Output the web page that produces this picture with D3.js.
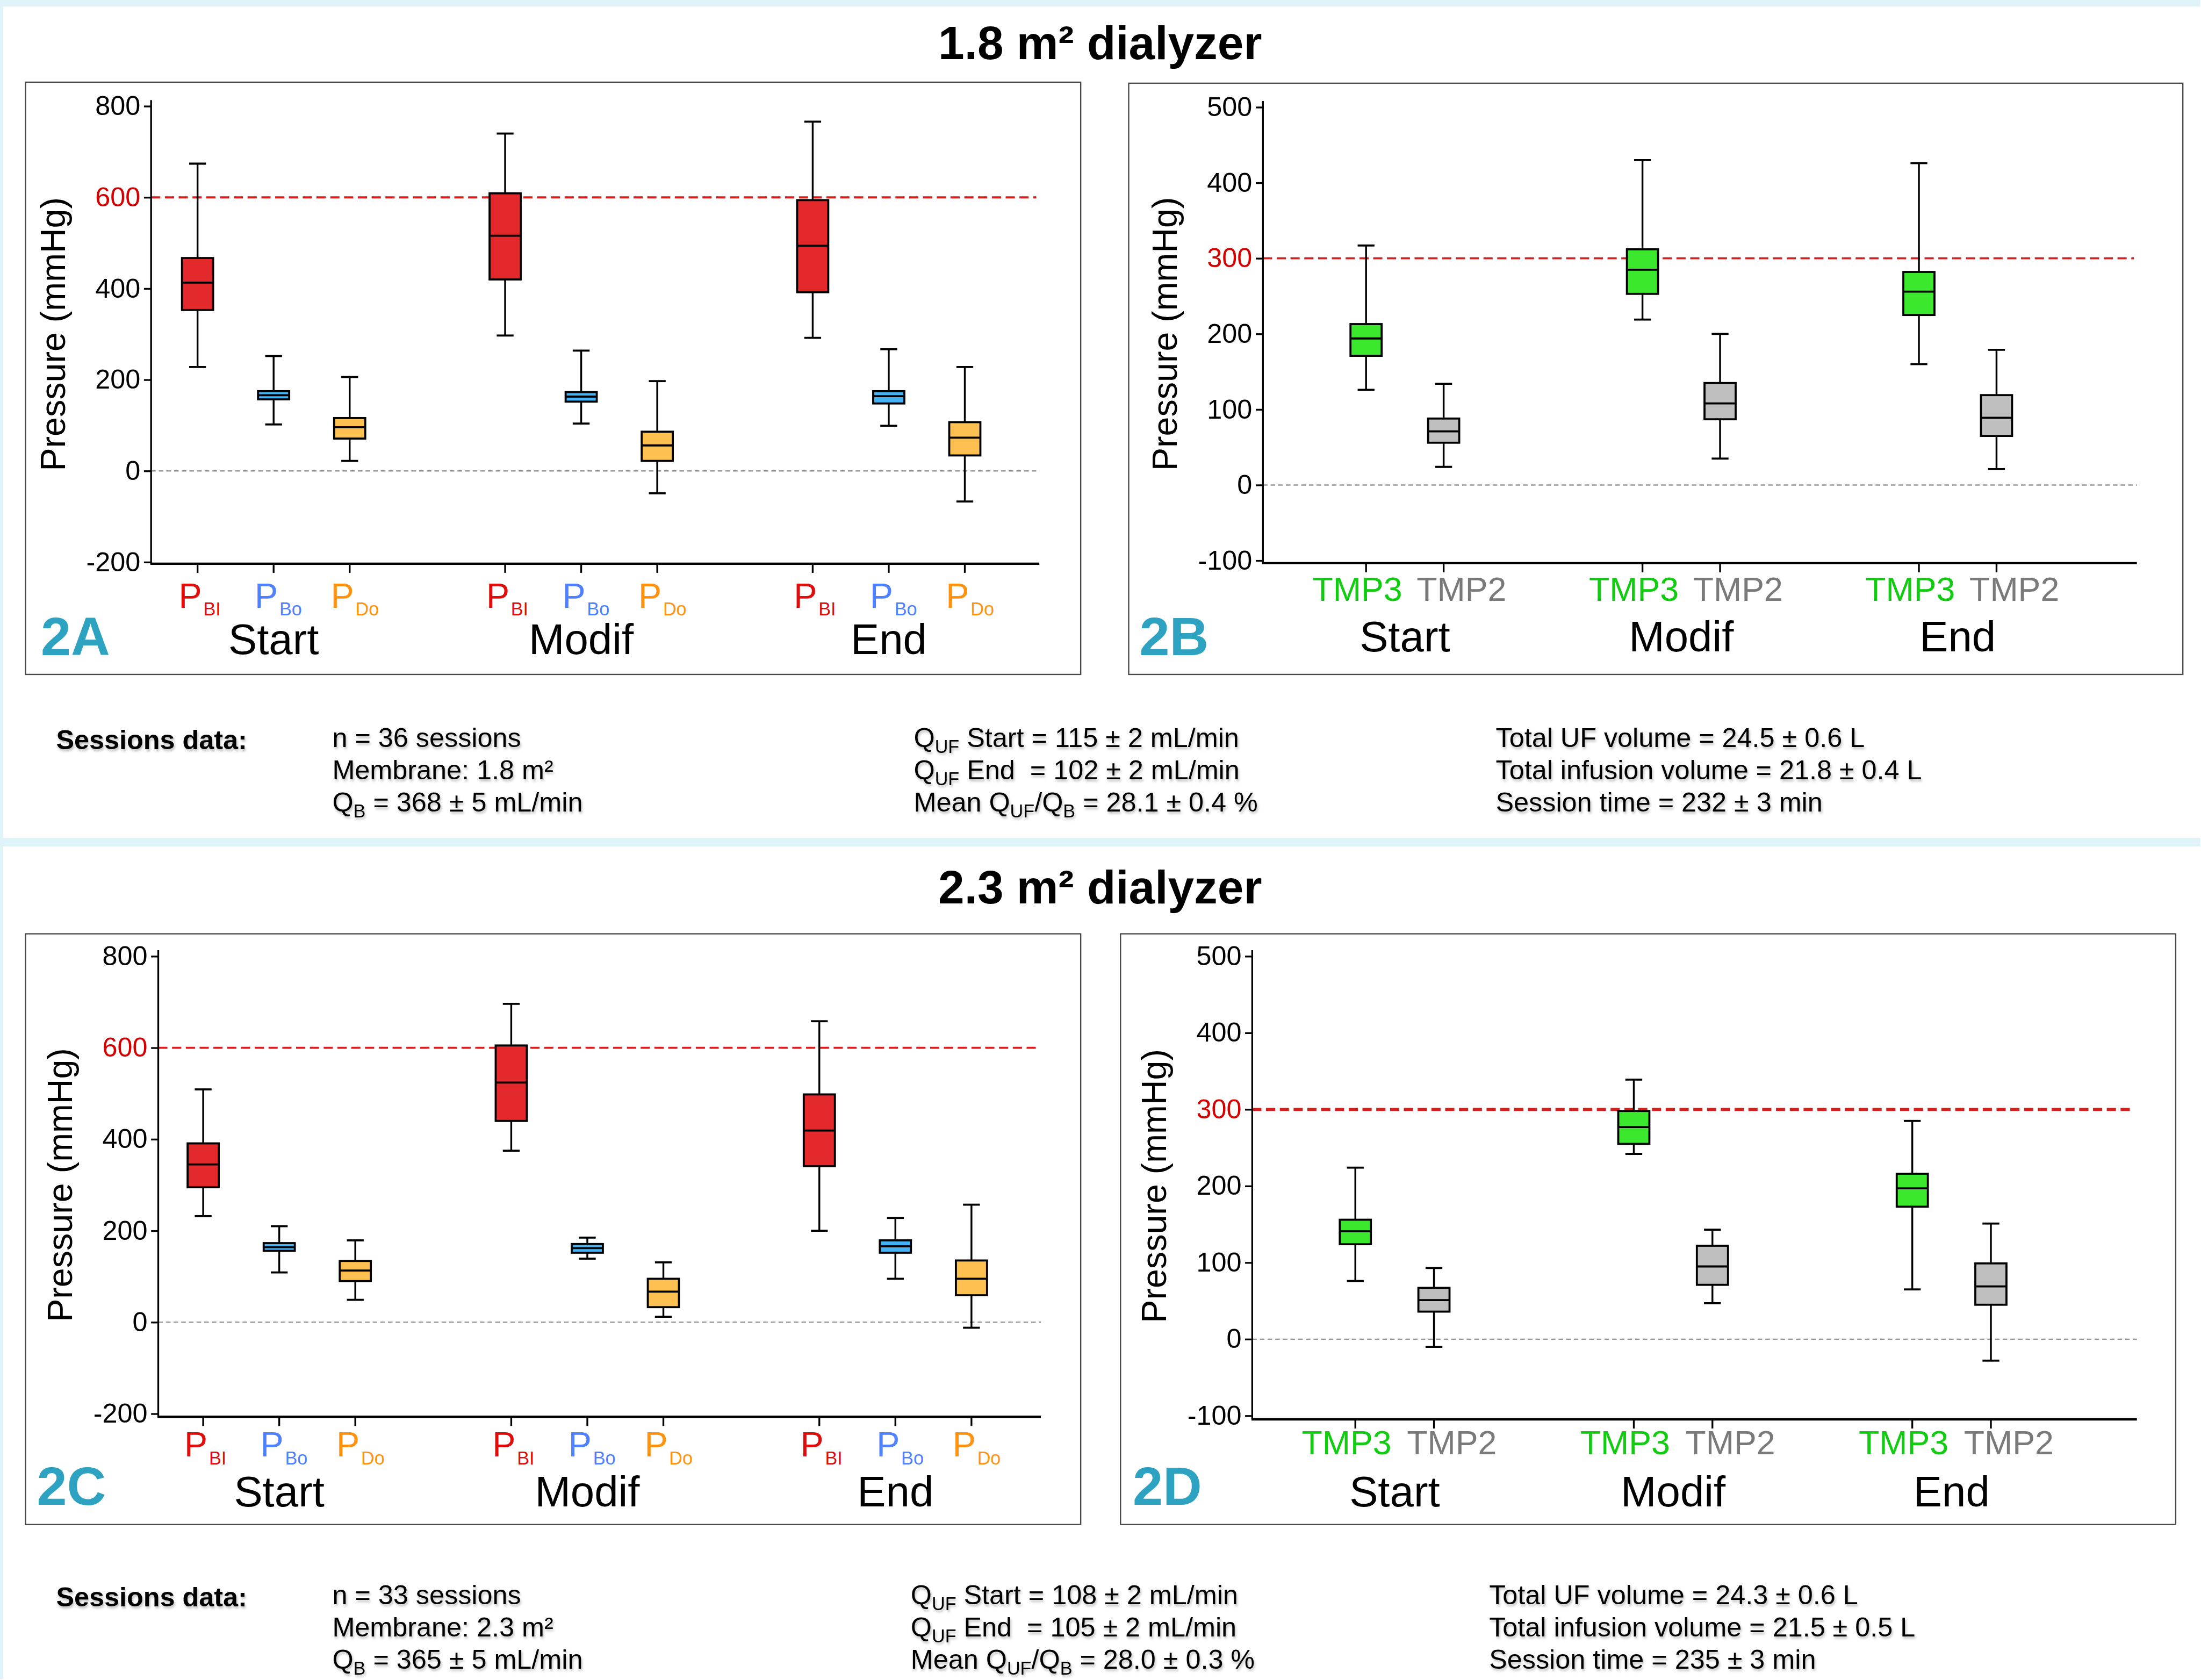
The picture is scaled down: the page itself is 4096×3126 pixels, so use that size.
<!DOCTYPE html>
<html>
<head>
<meta charset="utf-8">
<script src="https://cdn.jsdelivr.net/npm/d3@7"></script>
<style>
  body { margin: 0; background: #fff; }
  svg { display: block; }
  text { font-family: "Liberation Sans", Arial, Helvetica, sans-serif; }
</style>
</head>
<body>
<div id="chart"></div>
<script>
// ---- data ----
var groups = ["Start", "Modif", "End"];
var pressureSeries = ["PBI", "PBo", "PDo"];
var tmpSeries = ["TMP3", "TMP2"];
var pressureTicks = [-200, 0, 200, 400, 600, 800];
var tmpTicks = [-100, 0, 100, 200, 300, 400, 500];
var pressureLimit = 600;
var tmpLimit = 300;

// [low whisker, Q1, median, Q3, high whisker] for Start, Modif, End
var pbi18 = [[228, 353, 413, 467, 674], [297, 420, 516, 609, 740], [292, 392, 494, 594, 766]];
var pbo18 = [[102, 157, 166, 175, 252], [104, 152, 163, 173, 264], [99, 148, 164, 175, 267]];
var pdo18 = [[22, 71, 96, 116, 206], [-49, 22, 56, 86, 197], [-67, 34, 73, 107, 228]];
var tmp3_18 = [[126, 171, 194, 213, 317], [219, 253, 285, 312, 430], [160, 225, 256, 282, 426]];
var tmp2_18 = [[24, 56, 71, 88, 134], [35, 87, 108, 135, 200], [21, 65, 89, 119, 179]];

var pbi23 = [[232, 295, 345, 391, 509], [375, 440, 524, 605, 696], [200, 341, 419, 498, 658]];
var pbo23 = [[109, 156, 164, 173, 210], [139, 152, 162, 171, 185], [95, 152, 166, 179, 228]];
var pdo23 = [[49, 90, 113, 134, 179], [12, 33, 67, 95, 131], [-12, 59, 95, 135, 257]];
var tmp3_23 = [[76, 124, 141, 156, 224], [242, 255, 277, 298, 339], [65, 173, 197, 216, 285]];
var tmp2_23 = [[-10, 36, 51, 67, 93], [47, 71, 95, 122, 143], [-28, 45, 69, 99, 151]];

var titles = ["1.8 m\u00b2 dialyzer", "2.3 m\u00b2 dialyzer"];
var panelNames = ["2A", "2B", "2C", "2D"];

var info18 = [
    ["n = 36 sessions", "Membrane: 1.8 m\u00b2", "Q_{B} = 368 \u00b1 5 mL/min"],
    ["Q_{UF} Start = 115 \u00b1 2 mL/min", "Q_{UF} End  = 102 \u00b1 2 mL/min", "Mean Q_{UF}/Q_{B} = 28.1 \u00b1 0.4 %"],
    ["Total UF volume = 24.5 \u00b1 0.6 L", "Total infusion volume = 21.8 \u00b1 0.4 L", "Session time = 232 \u00b1 3 min"]
];
var info23 = [
    ["n = 33 sessions", "Membrane: 2.3 m\u00b2", "Q_{B} = 365 \u00b1 5 mL/min"],
    ["Q_{UF} Start = 108 \u00b1 2 mL/min", "Q_{UF} End  = 105 \u00b1 2 mL/min", "Mean Q_{UF}/Q_{B} = 28.0 \u00b1 0.3 %"],
    ["Total UF volume = 24.3 \u00b1 0.6 L", "Total infusion volume = 21.5 \u00b1 0.5 L", "Session time = 235 \u00b1 3 min"]
];

// ---- styles ----
var fills = {PBI: "#e3292b", PBo: "#45b3f3", PDo: "#fec050", TMP3: "#3be82d", TMP2: "#bfbfbf"};
var labelColors = {PBI: "#e00b0b", PBo: "#4f80ff", PDo: "#ff9310", TMP3: "#11cc11", TMP2: "#7a7a7a"};
var labelParts = {PBI: ["P", "BI"], PBo: ["P", "Bo"], PDo: ["P", "Do"], TMP3: ["TMP3", ""], TMP2: ["TMP2", ""]};
var labelShift = {PBI: -37, PBo: -37, PDo: -37, TMP3: -17, TMP2: 35};
var teal = "#2da3c1";

var W = 4310, H = 3289, S = 0.95;

var svg = d3.select("#chart").append("svg")
    .attr("width", 4096)
    .attr("height", 3126);

var defs = svg.append("defs");
var shadow = defs.append("filter").attr("id", "soft").attr("x", "-5%").attr("y", "-20%")
    .attr("width", "110%").attr("height", "160%");
shadow.append("feDropShadow").attr("dx", 2).attr("dy", 4).attr("stdDeviation", 2)
    .attr("flood-color", "#000").attr("flood-opacity", 0.25);

var root = svg.append("g").attr("transform", "scale(" + S + ")");

// background with the light blue bands
root.append("rect").attr("width", W).attr("height", H).attr("fill", "#fff");
root.append("rect").attr("width", W).attr("height", 13).attr("fill", "#dff3f8");
root.append("rect").attr("y", 1641).attr("width", W).attr("height", 17).attr("fill", "#dff3f8");
root.append("rect").attr("width", 6).attr("height", H).attr("fill", "#dff3f8");

// titles
[116, 1769].forEach(function (ty, i) {
    root.append("text")
        .attr("x", 2155).attr("y", ty)
        .attr("text-anchor", "middle")
        .attr("font-size", 92).attr("font-weight", "bold")
        .text(titles[i]);
});

var panels = [
    {name: panelNames[0], frame: [50, 161, 2117, 1321], axisX: 296, xEnd: 2036, yRange: [1101, 208], baseY: 1104,
        groupRange: [536, 1741], inner: 149, keys: pressureSeries, data: [pbi18, pbo18, pdo18], ticks: pressureTicks,
        limit: pressureLimit, tag: [80, 1283], catDy: 86, groupDy: 177, limitWidth: 4},
    {name: panelNames[1], frame: [2211, 163, 4276, 1321], axisX: 2474, xEnd: 4186, yRange: [1098, 210], baseY: 1103,
        groupRange: [2752, 3835], inner: 76, keys: tmpSeries, data: [tmp3_18, tmp2_18], ticks: tmpTicks,
        limit: tmpLimit, tag: [2232, 1283], catDy: 74, groupDy: 173, limitWidth: 4},
    {name: panelNames[2], frame: [50, 1829, 2117, 2986], axisX: 310, xEnd: 2039, yRange: [2769, 1873], baseY: 2775,
        groupRange: [547, 1754], inner: 149, keys: pressureSeries, data: [pbi23, pbo23, pdo23], ticks: pressureTicks,
        limit: pressureLimit, tag: [72, 2947], catDy: 78, groupDy: 175, limitWidth: 4},
    {name: panelNames[3], frame: [2195, 1829, 4262, 2986], axisX: 2453, xEnd: 4186, yRange: [2773, 1873], baseY: 2780,
        groupRange: [2732, 3823], inner: 77, keys: tmpSeries, data: [tmp3_23, tmp2_23], ticks: tmpTicks,
        limit: tmpLimit, tag: [2219, 2947], catDy: 68, groupDy: 171, limitWidth: 6}
];

panels.forEach(function (p) { drawPanel(p); });

function drawPanel(p) {
    var g = root.append("g");
    var ticks = p.ticks;

    g.append("rect")
        .attr("x", p.frame[0]).attr("y", p.frame[1])
        .attr("width", p.frame[2] - p.frame[0]).attr("height", p.frame[3] - p.frame[1])
        .attr("fill", "none").attr("stroke", "#4a4a4a").attr("stroke-width", 2.5);

    var y = d3.scaleLinear().domain([ticks[0], ticks[ticks.length - 1]]).range(p.yRange);
    var xg = d3.scalePoint().domain(groups).range(p.groupRange);
    var xs = d3.scalePoint().domain(p.keys).range([-p.inner, p.inner]);

    // reference lines
    g.append("line")
        .attr("x1", p.axisX).attr("x2", p.xEnd)
        .attr("y1", y(0)).attr("y2", y(0))
        .attr("stroke", "#999").attr("stroke-width", 2.5).attr("stroke-dasharray", "9,6");
    g.append("line")
        .attr("x1", p.axisX).attr("x2", p.xEnd - 6)
        .attr("y1", y(p.limit)).attr("y2", y(p.limit))
        .attr("stroke", "#d61f1f").attr("stroke-width", p.limitWidth).attr("stroke-dasharray", "18,9");

    // y axis (plain hyphen for negatives, as in the original figure)
    var ya = g.append("g")
        .attr("transform", "translate(" + p.axisX + ",0)")
        .call(d3.axisLeft(y).tickValues(ticks).tickSize(14).tickPadding(7)
            .tickFormat(function (d) { return String(d); }));
    ya.attr("font-family", null).attr("font-size", null);
    ya.select(".domain").remove();
    ya.selectAll(".tick line").attr("stroke", "#000").attr("stroke-width", 3.5);
    ya.selectAll(".tick text")
        .attr("font-size", 53)
        .attr("fill", function (d) { return d === p.limit ? "#d40000" : "#000"; });
    g.append("line")
        .attr("x1", p.axisX).attr("x2", p.axisX)
        .attr("y1", y(ticks[ticks.length - 1]) - 12).attr("y2", p.baseY)
        .attr("stroke", "#000").attr("stroke-width", 3.5);

    // x axis
    g.append("line")
        .attr("x1", p.axisX - 1.5).attr("x2", p.xEnd)
        .attr("y1", p.baseY).attr("y2", p.baseY)
        .attr("stroke", "#000").attr("stroke-width", 4.5);

    g.append("text")
        .attr("transform", "translate(" + (p.axisX - 169) + "," + ((p.yRange[0] + p.yRange[1]) / 2) + ") rotate(-90)")
        .attr("text-anchor", "middle")
        .attr("font-size", 68)
        .text("Pressure (mmHg)");

    // boxes
    var cells = [];
    groups.forEach(function (grp, gi) {
        p.keys.forEach(function (k, ki) {
            var v = p.data[ki][gi];
            cells.push({group: grp, key: k, cx: xg(grp) + xs(k), lo: v[0], q1: v[1], med: v[2], q3: v[3], hi: v[4]});
        });
    });

    var bw = 61, cw = 33;
    var box = g.selectAll(".box").data(cells).enter().append("g").attr("class", "box");

    box.append("line")
        .attr("x1", function (d) { return d.cx; }).attr("x2", function (d) { return d.cx; })
        .attr("y1", p.baseY).attr("y2", p.baseY + 18)
        .attr("stroke", "#000").attr("stroke-width", 3.5);
    box.append("line")
        .attr("x1", function (d) { return d.cx; }).attr("x2", function (d) { return d.cx; })
        .attr("y1", function (d) { return y(d.hi); }).attr("y2", function (d) { return y(d.lo); })
        .attr("stroke", "#000").attr("stroke-width", 3.6);
    ["hi", "lo"].forEach(function (f) {
        box.append("line")
            .attr("x1", function (d) { return d.cx - cw / 2; }).attr("x2", function (d) { return d.cx + cw / 2; })
            .attr("y1", function (d) { return y(d[f]); }).attr("y2", function (d) { return y(d[f]); })
            .attr("stroke", "#000").attr("stroke-width", 4);
    });
    box.append("rect")
        .attr("x", function (d) { return d.cx - bw / 2; })
        .attr("y", function (d) { return y(d.q3); })
        .attr("width", bw)
        .attr("height", function (d) { return y(d.q1) - y(d.q3); })
        .attr("fill", function (d) { return fills[d.key]; })
        .attr("stroke", "#000").attr("stroke-width", 4);
    box.append("line")
        .attr("x1", function (d) { return d.cx - bw / 2; }).attr("x2", function (d) { return d.cx + bw / 2; })
        .attr("y1", function (d) { return y(d.med); }).attr("y2", function (d) { return y(d.med); })
        .attr("stroke", "#000").attr("stroke-width", 4);

    // category labels
    var isP = p.keys === pressureSeries;
    var lab = box.append("text")
        .attr("x", function (d) { return d.cx + labelShift[d.key]; })
        .attr("y", p.baseY + p.catDy)
        .attr("text-anchor", isP ? "start" : "middle")
        .attr("fill", function (d) { return labelColors[d.key]; });
    lab.append("tspan")
        .attr("font-size", isP ? 68 : 66)
        .text(function (d) { return labelParts[d.key][0]; });
    if (isP) {
        lab.append("tspan")
            .attr("font-size", 36).attr("dy", 15).attr("dx", 3)
            .text(function (d) { return labelParts[d.key][1]; });
    }

    g.selectAll(".grp").data(groups).enter().append("text")
        .attr("x", function (d) { return xg(d); })
        .attr("y", p.baseY + p.groupDy)
        .attr("text-anchor", "middle")
        .attr("font-size", 84)
        .text(function (d) { return d; });

    g.append("text")
        .attr("x", p.tag[0]).attr("y", p.tag[1])
        .attr("font-size", 106).attr("font-weight", "bold")
        .attr("fill", teal)
        .text(p.name);
}

// session info blocks
drawInfo(110, [651, 1790, 2930], 1463, info18);
drawInfo(110, [651, 1784, 2917], 3142, info23);

function drawInfo(x0, cols, y0, cols_text) {
    var g = root.append("g").attr("filter", "url(#soft)");
    g.append("text")
        .attr("x", x0).attr("y", y0 + 4)
        .attr("font-size", 53).attr("font-weight", "bold")
        .text("Sessions data:");
    cols_text.forEach(function (lines, ci) {
        lines.forEach(function (line, li) {
            var t = g.append("text")
                .attr("x", cols[ci]).attr("y", y0 + li * 63)
                .attr("font-size", 53)
                .attr("xml:space", "preserve")
                .style("white-space", "pre");
            var parts = line.split(/(_\{[^}]*\})/).filter(function (s) { return s.length; });
            var down = false;
            parts.forEach(function (s) {
                if (s.charAt(0) === "_") {
                    t.append("tspan").attr("font-size", 36).attr("dy", down ? 0 : 12).text(s.slice(2, -1));
                    down = true;
                } else {
                    t.append("tspan").attr("dy", down ? -12 : 0).text(s);
                    down = false;
                }
            });
        });
    });
}
</script>
</body>
</html>
